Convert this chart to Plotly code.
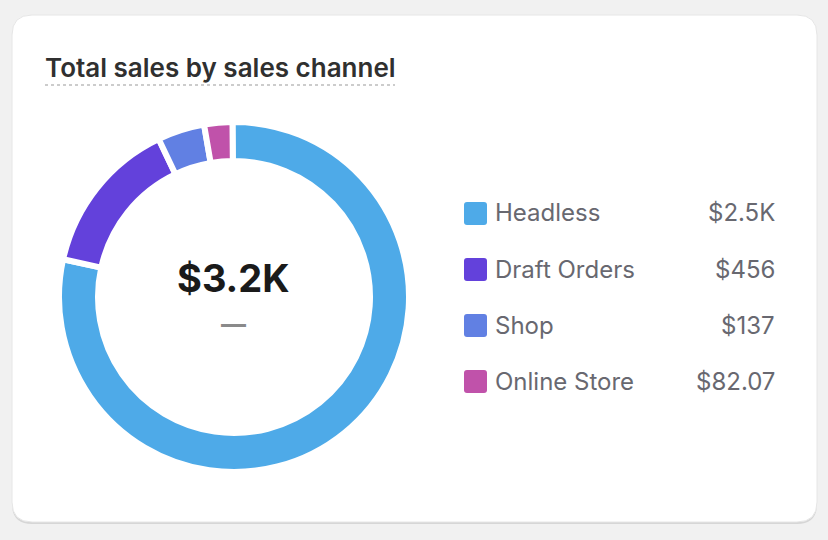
import plotly.graph_objects as go

W, H = 828, 540

channels = ["Headless", "Draft Orders", "Shop", "Online Store"]
sales = [2480, 456, 137, 82.07]
value_labels = ["$2.5K", "$456", "$137", "$82.07"]
colors = ["#4eaae8", "#6341db", "#6180e3", "#c052aa"]
total_label = "$3.2K"
title_text = "Total sales by sales channel"

FONT = "Inter, Noto Sans, sans-serif"


def px(x):
    return x / W


def py(y):
    return 1 - y / H


def rrect(x0, y0, x1, y1, r):
    pts = [
        f"M {px(x0 + r)},{py(y0)}",
        f"L {px(x1 - r)},{py(y0)}",
        f"Q {px(x1)},{py(y0)} {px(x1)},{py(y0 + r)}",
        f"L {px(x1)},{py(y1 - r)}",
        f"Q {px(x1)},{py(y1)} {px(x1 - r)},{py(y1)}",
        f"L {px(x0 + r)},{py(y1)}",
        f"Q {px(x0)},{py(y1)} {px(x0)},{py(y1 - r)}",
        f"L {px(x0)},{py(y0 + r)}",
        f"Q {px(x0)},{py(y0)} {px(x0 + r)},{py(y0)}",
        "Z",
    ]
    return " ".join(pts)


cx, cy, R = 234, 297, 175
GAP = 6

fig = go.Figure()
fig.add_trace(go.Pie(
    labels=channels,
    values=sales,
    hole=(139 - GAP / 2) / R,
    sort=False,
    direction="clockwise",
    rotation=-0.5,
    marker=dict(colors=colors, line=dict(color="white", width=GAP)),
    textinfo="none",
    showlegend=False,
    domain=dict(x=[px(cx - R), px(cx + R)], y=[py(cy + R), py(cy - R)]),
))

shapes = []
# card shadow and card
shapes.append(dict(type="path", xref="paper", yref="paper",
                   path=rrect(12, 16, 817, 524, 20),
                   fillcolor="#d6d6d6", line=dict(width=0), layer="below"))
shapes.append(dict(type="path", xref="paper", yref="paper",
                   path=rrect(12, 15, 817, 522, 20),
                   fillcolor="#ffffff", line=dict(color="#e6e6e6", width=1), layer="below"))
# dotted underline of title
shapes.append(dict(type="line", xref="paper", yref="paper",
                   x0=px(45), x1=px(395), y0=py(85), y1=py(85),
                   line=dict(color="#cccccc", width=2, dash="dot")))

annotations = [
    dict(text=title_text, x=px(43), y=py(67), xref="paper", yref="paper",
         xanchor="left", yanchor="middle", showarrow=False,
         font=dict(family=FONT, size=26, color="#303030", weight=600)),
    dict(text=total_label, x=px(cx), y=py(278), xref="paper", yref="paper",
         xanchor="center", yanchor="middle", showarrow=False,
         font=dict(family=FONT, size=38, color="#1a1a1a", weight=700)),
    dict(text="—", x=px(cx), y=py(324), xref="paper", yref="paper",
         xanchor="center", yanchor="middle", showarrow=False,
         font=dict(family=FONT, size=25, color="#8a8a8a", weight=700)),
]

row_y = [213, 269, 325, 381]
for name, lab, col, yy in zip(channels, value_labels, colors, row_y):
    shapes.append(dict(type="path", xref="paper", yref="paper",
                       path=rrect(464, yy - 11, 487, yy + 12, 3),
                       fillcolor=col, line=dict(width=0)))
    annotations.append(dict(text=name, x=px(493), y=py(yy), xref="paper", yref="paper",
                            xanchor="left", yanchor="middle", showarrow=False,
                            font=dict(family=FONT, size=24, color="#686870")))
    annotations.append(dict(text=lab, x=px(777), y=py(yy), xref="paper", yref="paper",
                            xanchor="right", yanchor="middle", showarrow=False,
                            font=dict(family=FONT, size=24, color="#686870")))

fig.update_layout(
    width=W, height=H,
    margin=dict(l=0, r=0, t=0, b=0),
    paper_bgcolor="#f1f1f1",
    plot_bgcolor="#f1f1f1",
    shapes=shapes,
    annotations=annotations,
    font=dict(family=FONT),
)

fig.write_html("out.html", config={"displayModeBar": False},
               post_script="document.body.style.margin='0';")
